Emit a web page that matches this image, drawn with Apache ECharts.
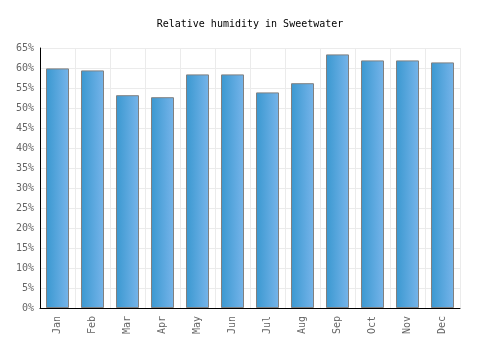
<!DOCTYPE html>
<html>
<head>
<meta charset="utf-8">
<script src="https://cdn.jsdelivr.net/npm/echarts@6/dist/echarts.min.js"></script>
<style>
html,body{margin:0;padding:0;background:#fff;}
#main{width:500px;height:350px;}
</style>
</head>
<body>
<div id="main"></div>
<script>
var months = ["Jan","Feb","Mar","Apr","May","Jun","Jul","Aug","Sep","Oct","Nov","Dec"];
var humidity = [59.9, 59.4, 53.2, 52.7, 58.4, 58.4, 53.9, 56.2, 63.4, 61.9, 61.9, 61.4];

var myChart = echarts.init(document.getElementById("main"));

var option = {
	animation: false,
	title: {
		text: "Relative humidity in Sweetwater",
		left: "center",
		top: 14,
		textStyle: { fontFamily: "DejaVu Sans Mono", fontSize: 10, fontWeight: "normal", color: "#000" }
	},
	grid: { left: 40, right: 40, top: 48, bottom: 42 },
	xAxis: {
		type: "category",
		data: months,
		axisLine: { lineStyle: { color: "#000", width: 1 } },
		axisTick: { show: false },
		axisLabel: { rotate: 90, fontFamily: "DejaVu Sans Mono", fontSize: 10, color: "#666", margin: 8 },
		splitLine: { show: true, lineStyle: { color: "#ebebeb" } }
	},
	yAxis: {
		type: "value",
		min: 0,
		max: 65,
		interval: 5,
		axisLine: { show: true, lineStyle: { color: "#000", width: 1 } },
		axisTick: { show: false },
		axisLabel: { formatter: "{value}%", fontFamily: "DejaVu Sans Mono", fontSize: 10, color: "#666", margin: 6 },
		splitLine: { lineStyle: { color: "#ebebeb" } }
	},
	series: [{
		type: "bar",
		data: humidity,
		barWidth: 23,
		itemStyle: {
			borderColor: "#808080",
			borderWidth: 1,
			color: new echarts.graphic.LinearGradient(0, 0, 1, 0, [
				{ offset: 0, color: "#3a98d0" },
				{ offset: 1, color: "#76b4ea" }
			])
		}
	}]
};

myChart.setOption(option);
</script>
</body>
</html>
